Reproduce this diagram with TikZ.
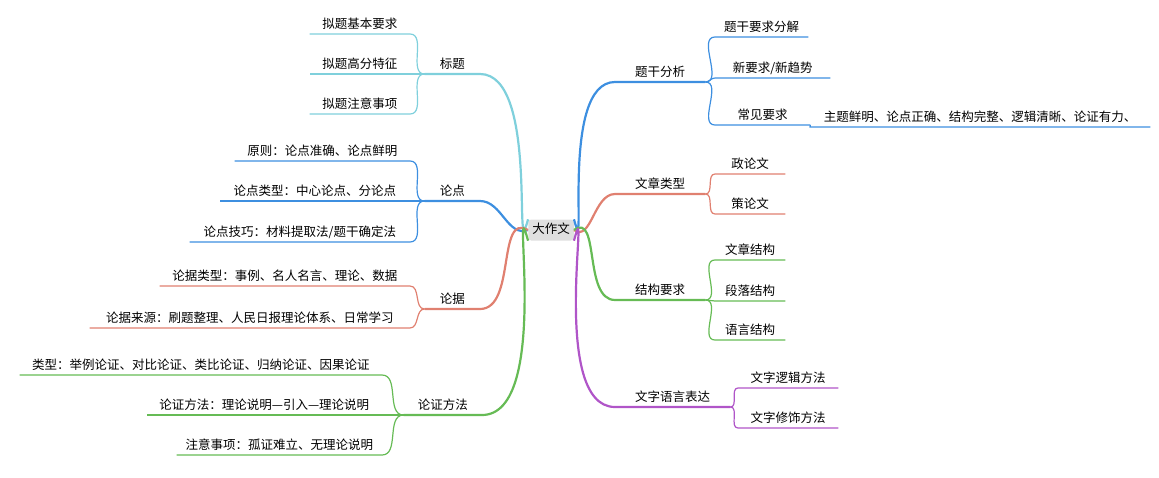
\documentclass[tikz,border=0pt]{standalone}
\usepackage{fontspec}
\setmainfont{Noto Sans CJK SC}
\definecolor{lanse}{HTML}{3D8FE0}
\definecolor{hongse}{HTML}{E08070}
\definecolor{lvse}{HTML}{66BB55}
\definecolor{zise}{HTML}{B055C8}
\definecolor{qingse}{HTML}{7FD0DC}
\tikzset{
  lbl/.style={font=\fontsize{12.5}{14}\selectfont, inner sep=2pt, text height=1em, text depth=.3em},
  rlbl/.style={lbl, anchor=south west},
  llbl/.style={lbl, anchor=south east},
  branch/.style={line width=2.2pt},
  twig/.style={line width=1.2pt}
}
\begin{document}
\begin{tikzpicture}[x=1pt,y=-1pt]
    \useasboundingbox (0,0) rectangle (1159,477);
    \node[lbl, fill=gray!25, rounded corners=3pt, inner sep=4pt] (dzw) at (551,230) {大作文};

    % right side
    \node[rlbl, minimum width=90] (tg) at (615,82) {题干分析};
    \node[rlbl, minimum width=93] (tg1) at (715,37) {题干要求分解};
    \node[rlbl, minimum width=115] (tg2) at (715,78) {新要求/新趋势};
    \node[rlbl, minimum width=95] (tg3) at (715,125) {常见要求};
    \node[rlbl, minimum width=340] (tg4) at (810,127) {主题鲜明、论点正确、结构完整、逻辑清晰、论证有力、};

    \node[rlbl, minimum width=90] (lx) at (615,194) {文章类型};
    \node[rlbl, minimum width=70] (lx1) at (715,174) {政论文};
    \node[rlbl, minimum width=70] (lx2) at (715,214) {策论文};

    \node[rlbl, minimum width=90] (jg) at (615,300) {结构要求};
    \node[rlbl, minimum width=70] (jg1) at (715,260) {文章结构};
    \node[rlbl, minimum width=70] (jg2) at (715,301) {段落结构};
    \node[rlbl, minimum width=70] (jg3) at (715,340) {语言结构};

    \node[rlbl, minimum width=115] (yy) at (615,407) {文字语言表达};
    \node[rlbl, minimum width=100] (yy1) at (738,388) {文字逻辑方法};
    \node[rlbl, minimum width=100] (yy2) at (738,428) {文字修饰方法};

    % left side
    \node[llbl, minimum width=55] (bt) at (480,74) {标题};
    \node[llbl, minimum width=100] (bt1) at (410,34) {拟题基本要求};
    \node[llbl, minimum width=100] (bt2) at (410,74) {拟题高分特征};
    \node[llbl, minimum width=100] (bt3) at (410,114) {拟题注意事项};

    \node[llbl, minimum width=55] (ld) at (480,201) {论点};
    \node[llbl, minimum width=175] (ld1) at (410,161) {原则：论点准确、论点鲜明};
    \node[llbl, minimum width=190] (ld2) at (410,201) {论点类型：中心论点、分论点};
    \node[llbl, minimum width=220] (ld3) at (410,242) {论点技巧：材料提取法/题干确定法};

    \node[llbl, minimum width=55] (lj) at (480,309) {论据};
    \node[llbl, minimum width=250] (lj1) at (410,286) {论据类型：事例、名人名言、理论、数据};
    \node[llbl, minimum width=320] (lj2) at (410,328) {论据来源：刷题整理、人民日报理论体系、日常学习};

    \node[llbl, minimum width=78] (lz) at (482,415) {论证方法};
    \node[llbl, minimum width=362] (lz1) at (382,375) {类型：举例论证、对比论证、类比论证、归纳论证、因果论证};
    \node[llbl, minimum width=235] (lz2) at (382,415) {论证方法：理论说明—引入—理论说明};
    \node[llbl, minimum width=205] (lz3) at (382,455) {注意事项：孤证难立、无理论说明};

    % main branches
    \draw[branch, lanse] (dzw.north east) to[out=-75,in=180] (tg.south west) -- (tg.south east);
    \draw[branch, hongse] (dzw.east) to[out=-35,in=180] (lx.south west) -- (lx.south east);
    \draw[branch, lvse] (dzw.east) to[out=35,in=180] (jg.south west) -- (jg.south east);
    \draw[branch, zise] (dzw.south east) to[out=75,in=180] (yy.south west) -- (yy.south east);
    \draw[branch, qingse] (dzw.north west) to[out=-105,in=0] (bt.south east) -- (bt.south west);
    \draw[branch, lanse] (dzw.west) to[out=-160,in=0] (ld.south east) -- (ld.south west);
    \draw[branch, hongse] (dzw.west) to[out=150,in=0] (lj.south east) -- (lj.south west);
    \draw[branch, lvse] (dzw.south west) to[out=105,in=0] (lz.south east) -- (lz.south west);

    % twigs
    \foreach \p/\c/\col in {tg/tg1/lanse, tg/tg2/lanse, tg/tg3/lanse, lx/lx1/hongse, lx/lx2/hongse,
        jg/jg1/lvse, jg/jg2/lvse, jg/jg3/lvse, yy/yy1/zise, yy/yy2/zise}
      \draw[twig, \col] (\p.south east) to[out=0,in=180] (\c.south west) -- (\c.south east);
    \draw[twig, lanse] (tg3.south east) -- (tg4.south west) -- (tg4.south east);
    \foreach \p/\c/\col in {bt/bt1/qingse, bt/bt2/qingse, bt/bt3/qingse, ld/ld1/lanse, ld/ld2/lanse,
        ld/ld3/lanse, lj/lj1/hongse, lj/lj2/hongse, lz/lz1/lvse, lz/lz2/lvse, lz/lz3/lvse}
      \draw[twig, \col] (\p.south west) to[out=180,in=0] (\c.south east) -- (\c.south west);
\end{tikzpicture}
\end{document}
